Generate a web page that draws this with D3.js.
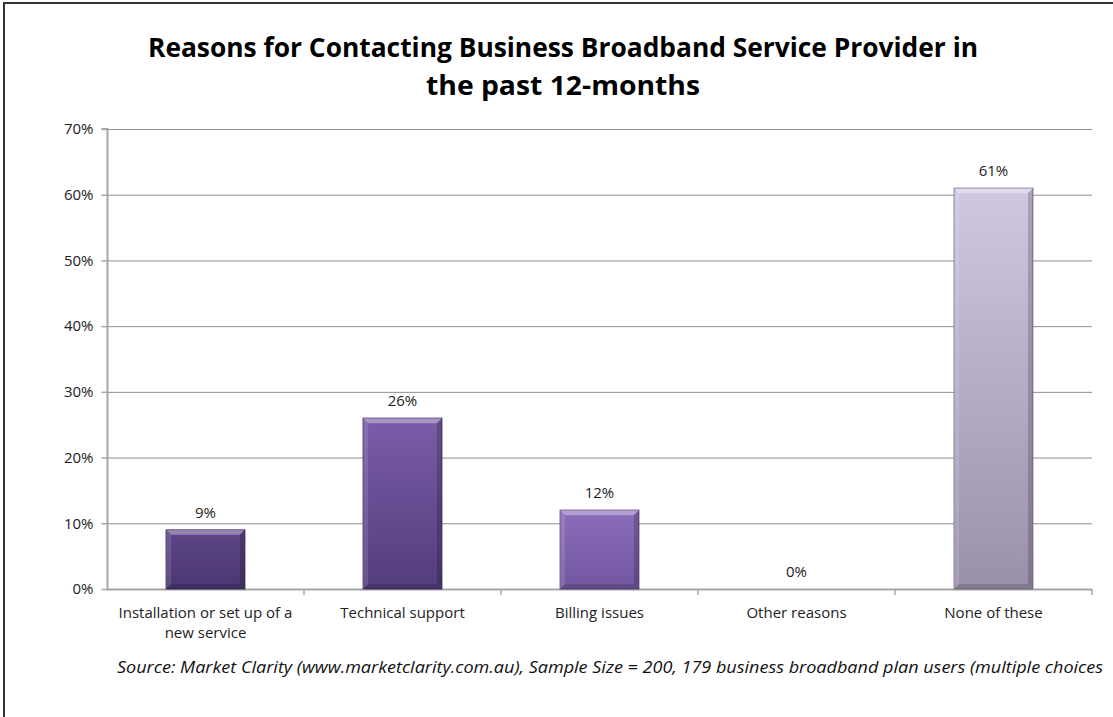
<!DOCTYPE html>
<html>
<head>
<meta charset="utf-8">
<script src="https://cdn.jsdelivr.net/npm/d3@7"></script>
<style>
  html, body { margin: 0; padding: 0; background: #fff; }
  svg { display: block; }
</style>
</head>
<body>
<svg id="chart" width="1113" height="717"></svg>
<script>
// Survey results: reasons for contacting the provider (percent of respondents)
const categories = [
  ["Installation or set up of a", "new service"],
  ["Technical support"],
  ["Billing issues"],
  ["Other reasons"],
  ["None of these"]
];
const values = [9, 26, 12, 0, 61];
const yTicks = [0, 10, 20, 30, 40, 50, 60, 70];
// top / bottom colours of each bar's vertical gradient
const barTop =    ["#5d4788", "#7a5ca8", "#8b6dba", "#8b6dba", "#d0c7e2"];
const barBottom = ["#4a3670", "#523d7c", "#7256a0", "#7256a0", "#9a90a9"];

const titleLines = ["Reasons for Contacting Business Broadband Service Provider in", "the past 12-months"];
const sourceText = "Source: Market Clarity (www.marketclarity.com.au), Sample Size = 200, 179 business broadband plan users (multiple choices";

const svg = d3.select("#chart");
const font = "'Open Sans', 'Noto Sans', sans-serif";

// outer frame
svg.append("rect")
  .attr("x", 4).attr("y", 3)
  .attr("width", 1120).attr("height", 730)
  .attr("fill", "none").attr("stroke", "#333").attr("stroke-width", 2);

const m = { left: 107, right: 1092, top: 129, bottom: 589 };

const x = d3.scaleBand()
  .domain(d3.range(categories.length))
  .range([m.left, m.right])
  .paddingInner(0.6).paddingOuter(0.3);

const y = d3.scaleLinear().domain([0, 70]).range([m.bottom, m.top]);

// gridlines
svg.append("g")
  .selectAll("line")
  .data(yTicks.filter(d => d > 0))
  .join("line")
  .attr("x1", m.left).attr("x2", m.right)
  .attr("y1", d => y(d) + 0.5).attr("y2", d => y(d) + 0.5)
  .attr("stroke", "#8e8e8e").attr("stroke-width", 1);

// y axis
const yAxis = svg.append("g")
  .attr("transform", `translate(${m.left + 0.5},0)`)
  .call(d3.axisLeft(y).tickValues(yTicks).tickFormat(d => d + "%").tickSize(6).tickPadding(8));
yAxis.select(".domain").attr("stroke", "#a6a6a6").attr("stroke-width", 2).attr("d", `M-6,${m.top}H0V${m.bottom}`);
yAxis.selectAll(".tick line").attr("stroke", "#a6a6a6").attr("stroke-width", 1.5);
yAxis.selectAll(".tick text")
  .attr("font-family", font).attr("font-size", 15).attr("fill", "#222");

// x axis baseline with ticks at category boundaries
svg.append("line")
  .attr("x1", m.left).attr("x2", m.right)
  .attr("y1", m.bottom + 0.5).attr("y2", m.bottom + 0.5)
  .attr("stroke", "#a6a6a6").attr("stroke-width", 2);
const slot = (m.right - m.left) / categories.length;
svg.append("g")
  .selectAll("line")
  .data(d3.range(1, categories.length + 1))
  .join("line")
  .attr("x1", i => m.left + slot * i)
  .attr("x2", i => m.left + slot * i)
  .attr("y1", m.bottom).attr("y2", m.bottom + 6)
  .attr("stroke", "#a6a6a6").attr("stroke-width", 1.5);

// gradients
const defs = svg.append("defs");
values.forEach((v, i) => {
  const g = defs.append("linearGradient")
    .attr("id", "bar" + i).attr("x1", 0).attr("x2", 0).attr("y1", 0).attr("y2", 1);
  g.append("stop").attr("offset", "0%").attr("stop-color", barTop[i]);
  g.append("stop").attr("offset", "100%").attr("stop-color", barBottom[i]);
});

// bars with a bevelled edge
const bars = svg.append("g")
  .selectAll("g")
  .data(values.map((v, i) => ({ v, i })).filter(d => d.v > 0))
  .join("g");

bars.append("rect")
  .attr("x", d => x(d.i)).attr("y", d => y(d.v))
  .attr("width", x.bandwidth()).attr("height", d => y(0) - y(d.v))
  .attr("fill", d => `url(#bar${d.i})`)
  .attr("stroke", d => d3.color(barBottom[d.i]).darker(0.6)).attr("stroke-width", 1);

const b = 5; // bevel size
// top highlight
bars.append("path")
  .attr("d", d => {
    const x0 = x(d.i), x1 = x0 + x.bandwidth(), y0 = y(d.v);
    return `M${x0},${y0}H${x1}L${x1 - b},${y0 + b}H${x0 + b}Z`;
  })
  .attr("fill", "#fff").attr("opacity", 0.35);
// left highlight
bars.append("path")
  .attr("d", d => {
    const x0 = x(d.i), y0 = y(d.v), y1 = y(0);
    return `M${x0},${y0}L${x0 + b},${y0 + b}V${y1 - b}L${x0},${y1}Z`;
  })
  .attr("fill", "#fff").attr("opacity", 0.12);
// right shade
bars.append("path")
  .attr("d", d => {
    const x1 = x(d.i) + x.bandwidth(), y0 = y(d.v), y1 = y(0);
    return `M${x1},${y0}L${x1 - b},${y0 + b}V${y1 - b}L${x1},${y1}Z`;
  })
  .attr("fill", "#000").attr("opacity", 0.18);
// bottom shade
bars.append("path")
  .attr("d", d => {
    const x0 = x(d.i), x1 = x0 + x.bandwidth(), y1 = y(0);
    return `M${x0},${y1}L${x0 + b},${y1 - b}H${x1 - b}L${x1},${y1}Z`;
  })
  .attr("fill", "#000").attr("opacity", 0.15);

// value labels
svg.append("g")
  .selectAll("text")
  .data(values)
  .join("text")
  .attr("x", (d, i) => x(i) + x.bandwidth() / 2)
  .attr("y", d => y(d) - 12)
  .attr("text-anchor", "middle")
  .attr("font-family", font).attr("font-size", 15).attr("fill", "#222")
  .text(d => d + "%");

// category labels
const cat = svg.append("g")
  .selectAll("text")
  .data(categories)
  .join("text")
  .attr("x", (d, i) => x(i) + x.bandwidth() / 2)
  .attr("y", 618)
  .attr("text-anchor", "middle")
  .attr("font-family", font).attr("font-size", 15).attr("fill", "#222");
cat.selectAll("tspan")
  .data(d => d)
  .join("tspan")
  .attr("x", function () { return d3.select(this.parentNode).attr("x"); })
  .attr("dy", (d, j) => j === 0 ? 0 : 20)
  .text(d => d);

// title
svg.append("g")
  .selectAll("text")
  .data(titleLines)
  .join("text")
  .attr("x", 563)
  .attr("y", (d, i) => 57 + i * 38)
  .attr("text-anchor", "middle")
  .attr("font-family", font).attr("font-weight", "bold").attr("font-size", 26).attr("fill", "#000")
  .attr("textLength", (d, i) => i === 0 ? 830 : 274)
  .attr("lengthAdjust", "spacingAndGlyphs")
  .text(d => d);

// source note
svg.append("text")
  .attr("x", 117).attr("y", 673)
  .attr("font-family", font).attr("font-style", "italic").attr("font-size", 16).attr("fill", "#111")
  .attr("textLength", 986).attr("lengthAdjust", "spacingAndGlyphs")
  .text(sourceText);
</script>
</body>
</html>
